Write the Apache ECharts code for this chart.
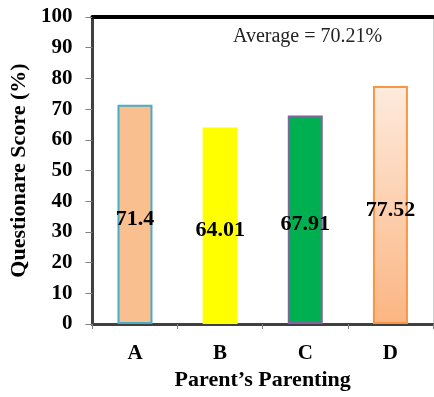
<!DOCTYPE html>
<html>
<head>
<meta charset="utf-8">
<script src="https://cdn.jsdelivr.net/npm/echarts@6/dist/echarts.min.js"></script>
<style>
  html, body { margin: 0; padding: 0; background: #fff; }
  #chart { width: 434px; height: 397px; }
</style>
</head>
<body>
<div id="chart"></div>
<script>
// Questionnaire scores by parenting style
const categories = ['A', 'B', 'C', 'D'];
const scores = [71.4, 64.01, 67.91, 77.52];
const averageText = 'Average = 70.21%';
const yTicks = { min: 0, max: 100, interval: 10 };

const serif = '"Liberation Serif", "Times New Roman", serif';

const barStyles = [
  { color: '#F9BF8F', borderColor: '#4BACC6', borderWidth: 2 },
  { color: '#FFFF00', borderWidth: 0 },
  { color: '#00B050', borderColor: '#8064A2', borderWidth: 2 },
  {
    color: {
      type: 'linear', x: 0, y: 0, x2: 0, y2: 1,
      colorStops: [
        { offset: 0, color: '#FEEBDD' },
        { offset: 1, color: '#FBB582' }
      ]
    },
    borderColor: '#F79646', borderWidth: 2
  }
];

const chart = echarts.init(document.getElementById('chart'));
chart.setOption({
  animation: false,
  backgroundColor: '#ffffff',
  grid: { left: 92, top: 17, right: 1, bottom: 73, containLabel: false },
  graphic: [{
    type: 'text',
    left: 233,
    top: 27,
    style: {
      text: averageText,
      font: '20px ' + serif,
      fill: '#222'
    }
  }],
  xAxis: [{
    type: 'category',
    data: categories,
    position: 'bottom',
    axisLine: { onZero: false, lineStyle: { color: '#404040', width: 3 } },
    axisTick: { show: true, length: 5, lineStyle: { color: '#808080', width: 1 } },
    axisLabel: { color: '#000', fontFamily: serif, fontWeight: 'bold', fontSize: 21, margin: 19 },
    name: 'Parent\u2019s Parenting',
    nameLocation: 'middle',
    nameGap: 43,
    nameTextStyle: { color: '#000', fontFamily: serif, fontWeight: 'bold', fontSize: 22 }
  }, {
    type: 'category',
    data: categories,
    position: 'top',
    axisLine: { onZero: false, lineStyle: { color: '#000', width: 4 } },
    axisTick: { show: false },
    axisLabel: { show: false }
  }],
  yAxis: [{
    type: 'value',
    min: yTicks.min,
    max: yTicks.max,
    interval: yTicks.interval,
    splitLine: { show: false },
    axisLine: { show: true, onZero: false, lineStyle: { color: '#404040', width: 3 } },
    axisTick: { show: true, inside: false, length: 7, lineStyle: { color: '#808080', width: 1 } },
    axisLabel: { color: '#000', fontFamily: serif, fontWeight: 'bold', fontSize: 21, margin: 20 },
    name: 'Questionare Score (%)',
    nameLocation: 'middle',
    nameGap: 59,
    nameTextStyle: { color: '#000', fontFamily: serif, fontWeight: 'bold', fontSize: 22 }
  }, {
    type: 'value',
    position: 'right',
    min: yTicks.min,
    max: yTicks.max,
    interval: yTicks.interval,
    splitLine: { show: false },
    axisLine: { show: true, onZero: false, lineStyle: { color: '#D0D0D0', width: 1 } },
    axisTick: { show: false },
    axisLabel: { show: false }
  }],
  series: [{
    type: 'bar',
    barWidth: 35,
    data: scores.map((v, i) => ({ value: v, itemStyle: barStyles[i] })),
    label: {
      show: true,
      position: 'inside',
      offset: [0, 5],
      color: '#000',
      fontFamily: serif,
      fontWeight: 'bold',
      fontSize: 22,
      formatter: p => String(p.value)
    }
  }]
});
</script>
</body>
</html>
